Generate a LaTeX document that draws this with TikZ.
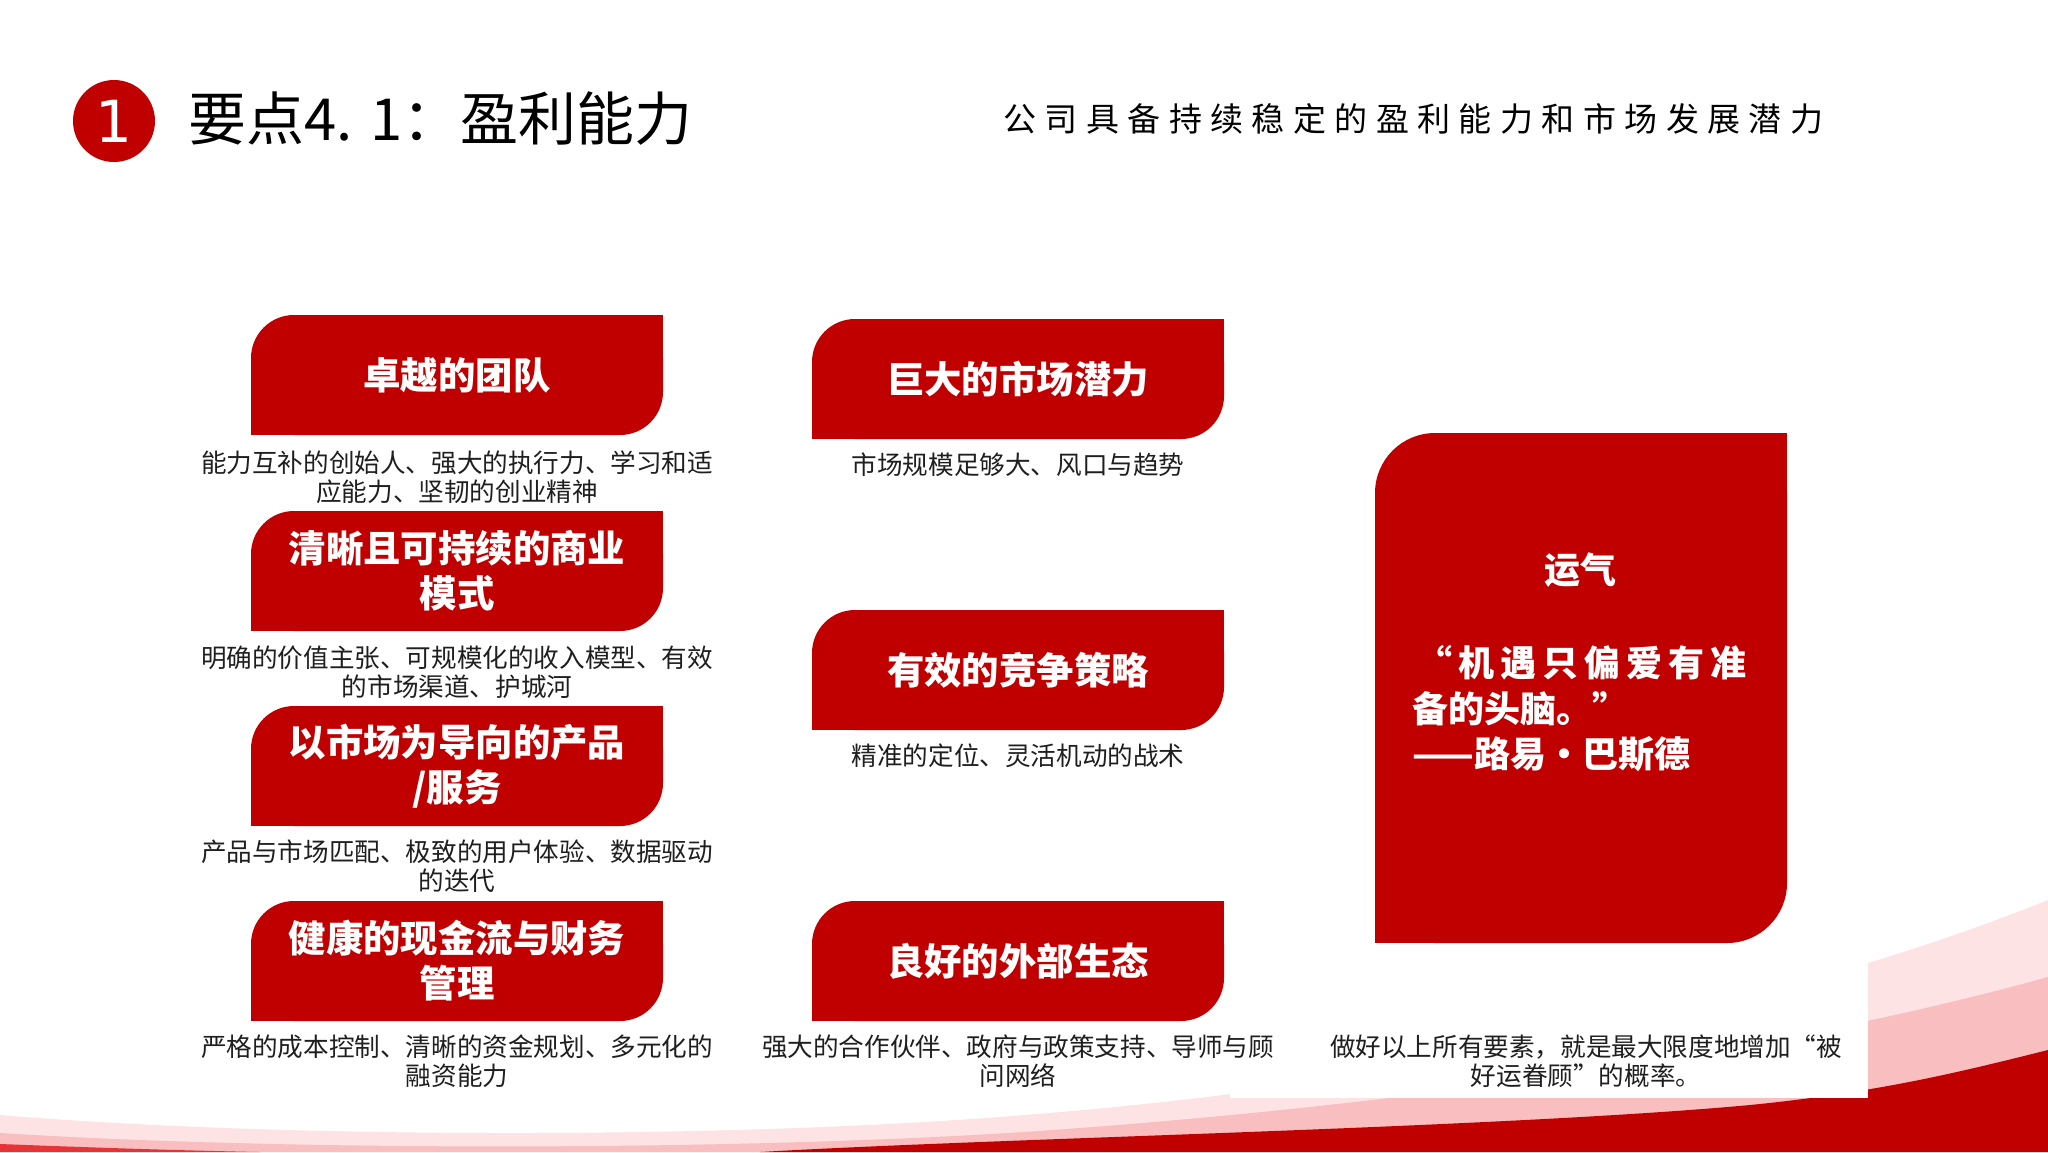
\documentclass[tikz,border=0pt]{standalone}
\usepackage{fontspec}
\setmainfont{Noto Sans CJK SC}
\newfontfamily\numfont{DejaVu Sans}
\definecolor{boxred}{HTML}{C00000}
\definecolor{pinkA}{HTML}{FDE3E4}
\definecolor{pinkB}{HTML}{F9BEBF}
\definecolor{brightred}{HTML}{E63336}
\definecolor{txt}{HTML}{1F1F1F}
\tikzset{
  diagbox/.style={minimum width=206pt, minimum height=60pt, inner sep=0pt,
    text=white, align=center, font=\bfseries\fontsize{18.7}{22.5}\selectfont,
    path picture={
      \fill[boxred, rounded corners=#1] (path picture bounding box.south west) rectangle (path picture bounding box.north east);
      \fill[boxred] (path picture bounding box.north east) rectangle ([xshift=-#1,yshift=-#1]path picture bounding box.north east);
      \fill[boxred] (path picture bounding box.south west) rectangle ([xshift=#1,yshift=#1]path picture bounding box.south west);
    }},
  diagbox/.default=21.5pt,
  desc/.style={align=center, text=txt, inner sep=0pt, font=\fontsize{12.8}{14.5}\selectfont},
  bigtext/.style={text=white, inner sep=0pt, font=\bfseries\fontsize{18}{22}\selectfont},
}
\begin{document}
\begin{tikzpicture}[x=0.5pt,y=-0.5pt]
\useasboundingbox (0,0) rectangle (2048,1152);
\fill[white] (0,0) rectangle (2048,1152);
% bottom waves
\fill[pinkA] (0,1115) .. controls (300,1140) and (750,1138) .. (1024,1115)
  .. controls (1350,1090) and (1750,1020) .. (2048,900) -- (2048,1152) -- (0,1152) -- cycle;
\fill[pinkB] (0,1133) .. controls (300,1152) and (750,1150) .. (1024,1132)
  .. controls (1350,1110) and (1750,1060) .. (2048,977) -- (2048,1152) -- (0,1152) -- cycle;
\fill[boxred] (760,1152) .. controls (1000,1138) and (1500,1128) .. (1750,1105)
  .. controls (1880,1092) and (1960,1072) .. (2048,1050) -- (2048,1152) -- cycle;
\fill[brightred] (0,1144) .. controls (80,1147) and (160,1150) .. (260,1152) -- (0,1152) -- cycle;
\fill[white] (1230,955) rectangle (1868,1098);
% title
\node[circle, fill=boxred, minimum size=41pt, inner sep=0pt, text=white,
  font=\numfont\fontsize{29}{29}\selectfont] (num) at (114,121) {1};
\node[anchor=west, inner sep=0pt, text=black, font=\fontsize{29}{34}\selectfont] (title) at (188,119) {要点4. 1：盈利能力};
\node[anchor=west, inner sep=0pt, text=black,
  font=\fontsize{16.5}{20}\selectfont\addfontfeatures{LetterSpace=25.5}] (sub) at (1003,119) {公司具备持续稳定的盈利能力和市场发展潜力};
% left column
\node[diagbox] (L1) at (457,375) {卓越的团队};
\node[desc] (D1) at (457,477) {能力互补的创始人、强大的执行力、学习和适\\应能力、坚韧的创业精神};
\node[diagbox] (L2) at (457,571) {清晰且可持续的商业\\模式};
\node[desc] (D2) at (457,672) {明确的价值主张、可规模化的收入模型、有效\\的市场渠道、护城河};
\node[diagbox] (L3) at (457,766) {以市场为导向的产品\\/服务};
\node[desc] (D3) at (457,866) {产品与市场匹配、极致的用户体验、数据驱动\\的迭代};
\node[diagbox] (L4) at (457,961) {健康的现金流与财务\\管理};
\node[desc] (D4) at (457,1061) {严格的成本控制、清晰的资金规划、多元化的\\融资能力};
% middle column
\node[diagbox] (M1) at (1018,379) {巨大的市场潜力};
\node[desc] (E1) at (1018,465) {市场规模足够大、风口与趋势};
\node[diagbox] (M2) at (1018,670) {有效的竞争策略};
\node[desc] (E2) at (1018,756) {精准的定位、灵活机动的战术};
\node[diagbox] (M3) at (1018,961) {良好的外部生态};
\node[desc] (E3) at (1018,1061) {强大的合作伙伴、政府与政策支持、导师与顾\\问网络};
% right big box
\node[diagbox=30pt, minimum width=206pt, minimum height=255pt] (R) at (1581,688) {};
\node[bigtext] (luck) at (1580,570) {运气};
\node[bigtext, anchor=west] (q1) at (1416,663) {\makebox[165pt][s]{“\hfill 机\hfill 遇\hfill 只\hfill 偏\hfill 爱\hfill 有\hfill 准}};
\node[bigtext, anchor=west] (q2) at (1412,709) {备的头脑。”};
\node[bigtext, anchor=west] (q3) at (1412,754) {——路易·巴斯德};
\node[desc] (DR) at (1586,1061) {做好以上所有要素，就是最大限度地增加“被\\好运眷顾”的概率。};
\end{tikzpicture}
\end{document}
